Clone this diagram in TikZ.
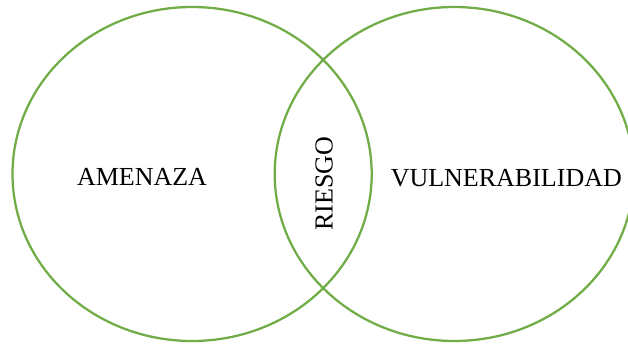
\documentclass[tikz,border=0pt]{standalone}
\usepackage{fontspec}
\setmainfont{Liberation Serif}
\definecolor{vgreen}{HTML}{70AD47}
\tikzset{
  setring/.style={draw=vgreen, line width=1.7pt},
  setlabel/.style={font=\fontsize{19.5}{22}\selectfont, text=black, inner sep=0pt, anchor=base}
}
\begin{document}
\begin{tikzpicture}[x=0.75pt,y=-0.75pt]
\useasboundingbox (0,0) rectangle (628,345);
\begin{scope}
\clip (0,0) rectangle (628,345);
\draw[setring] (192.1,174) ellipse [x radius=179.6, y radius=167];
\draw[setring] (454.3,174) ellipse [x radius=179.6, y radius=167];
\end{scope}
\node[setlabel] (amenaza) at (142,185.5) {AMENAZA};
\node[setlabel] (vulner) at (506.3,186.5) {VULNERABILIDAD};
\node[setlabel, rotate=90] (riesgo) at (332.5,183.5) {RIESGO};
\end{tikzpicture}
\end{document}
